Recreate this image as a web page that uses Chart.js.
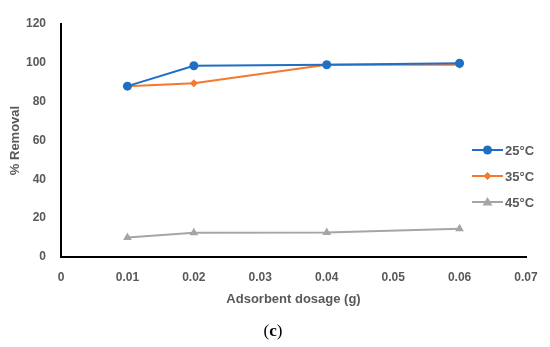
<!DOCTYPE html>
<html><head><meta charset="utf-8">
<script src="https://cdn.jsdelivr.net/npm/chart.js@4/dist/chart.umd.min.js"></script>
<style>html,body{margin:0;padding:0;background:#fff;}#wrap{width:550px;height:347px;position:relative;}</style>
</head><body><div id="wrap"><canvas id="c" width="550" height="347"></canvas></div>
<script>
const dosage = [0.01, 0.02, 0.04, 0.06];
const seriesNames = ['25°C', '35°C', '45°C'];
const removal25 = [88, 98.5, 99, 99.8];
const removal35 = [88, 89.5, 99, 99];
const removal45 = [10, 12.5, 12.6, 14.5];
const xTicks = [0, 0.01, 0.02, 0.03, 0.04, 0.05, 0.06, 0.07];
const yTicks = [0, 20, 40, 60, 80, 100, 120];

const colors = ['#1F6FC2', '#F5782E', '#A5A5A5'];
const styles = ['circle', 'rectRot', 'triangle'];
const radii = [4.5, 4, 5];
const txt = '#595959';
const font = 'Liberation Sans';

function pts(v){ return dosage.map((d,i)=>({x:d,y:v[i]})); }
const vals = [removal25, removal35, removal45];

const legendPlugin = {
  id: 'customLegend',
  afterDraw(chart){
    const ctx = chart.ctx;
    const ys = [150, 176, 202];
    ctx.save();
    chart.data.datasets.forEach((ds,i)=>{
      const y = ys[i];
      ctx.strokeStyle = ds.borderColor; ctx.lineWidth = 2;
      ctx.beginPath(); ctx.moveTo(472, y); ctx.lineTo(503, y); ctx.stroke();
      ctx.fillStyle = ds.borderColor;
      const cx = 487.5, r = radii[i];
      ctx.beginPath();
      if (styles[i]==='circle'){ ctx.arc(cx,y,r,0,Math.PI*2); }
      else if (styles[i]==='rectRot'){ ctx.moveTo(cx,y-r);ctx.lineTo(cx+r,y);ctx.lineTo(cx,y+r);ctx.lineTo(cx-r,y);ctx.closePath(); }
      else { ctx.moveTo(cx,y-r);ctx.lineTo(cx+r,y+r*0.7);ctx.lineTo(cx-r,y+r*0.7);ctx.closePath(); }
      ctx.fill();
      ctx.fillStyle = txt; ctx.font = 'bold 13px "' + font + '"';
      ctx.textBaseline = 'middle'; ctx.textAlign = 'left';
      ctx.fillText(ds.label, 505, y+1);
    });
    // caption "(c)": regular parens, bold c
    ctx.fillStyle = '#000'; ctx.textAlign = 'left'; ctx.textBaseline = 'middle';
    const reg = '17px "Liberation Serif"', bold = 'bold 17px "Liberation Serif"';
    ctx.font = reg; const wp = ctx.measureText('(').width, wq = ctx.measureText(')').width;
    ctx.font = bold; const wc = ctx.measureText('c').width;
    let x0 = 273 - (wp + wc + wq) / 2, yc = 332;
    ctx.font = reg; ctx.fillText('(', x0, yc);
    ctx.font = bold; ctx.fillText('c', x0 + wp, yc);
    ctx.font = reg; ctx.fillText(')', x0 + wp + wc, yc);
    ctx.restore();
  }
};

new Chart(document.getElementById('c'), {
  type: 'line',
  data: {
    datasets: seriesNames.map((n,i)=>({
      label: n, data: pts(vals[i]),
      borderColor: colors[i], backgroundColor: colors[i],
      borderWidth: 2, pointStyle: styles[i], pointRadius: radii[i],
      pointBorderWidth: 0, tension: 0
    }))
  },
  options: {
    responsive: false, animation: false,
    layout: { padding: { left: 0, right: 24, top: 24, bottom: 40 } },
    plugins: { legend: { display: false }, tooltip: { enabled: false } },
    scales: {
      x: {
        type: 'linear', min: 0, max: 0.07,
        afterBuildTicks(s){ s.ticks = xTicks.map(v=>({value:v})); },
        afterFit(s){ s.height = 50; },
        grid: { display: false },
        border: { display: true, color: '#000', width: 2 },
        ticks: { color: txt, padding: 5, font: { family: font, size: 12, weight: 'bold' },
                 callback: v => String(v) },
        title: { display: true, text: 'Adsorbent dosage (g)', color: txt,
                 font: { family: font, size: 13, weight: 'bold' }, padding: { top: 4, bottom: 0 } }
      },
      y: {
        min: 0, max: 120,
        afterBuildTicks(s){ s.ticks = yTicks.map(v=>({value:v})); },
        afterFit(s){ s.width = 61; },
        grid: { display: false },
        border: { display: true, color: '#000', width: 2 },
        ticks: { color: txt, padding: 7, font: { family: font, size: 12, weight: 'bold' } },
        title: { display: true, text: '% Removal', color: txt,
                 font: { family: font, size: 13, weight: 'bold' }, padding: { top: 8, bottom: 0 } }
      }
    }
  },
  plugins: [legendPlugin]
});
</script></body></html>
